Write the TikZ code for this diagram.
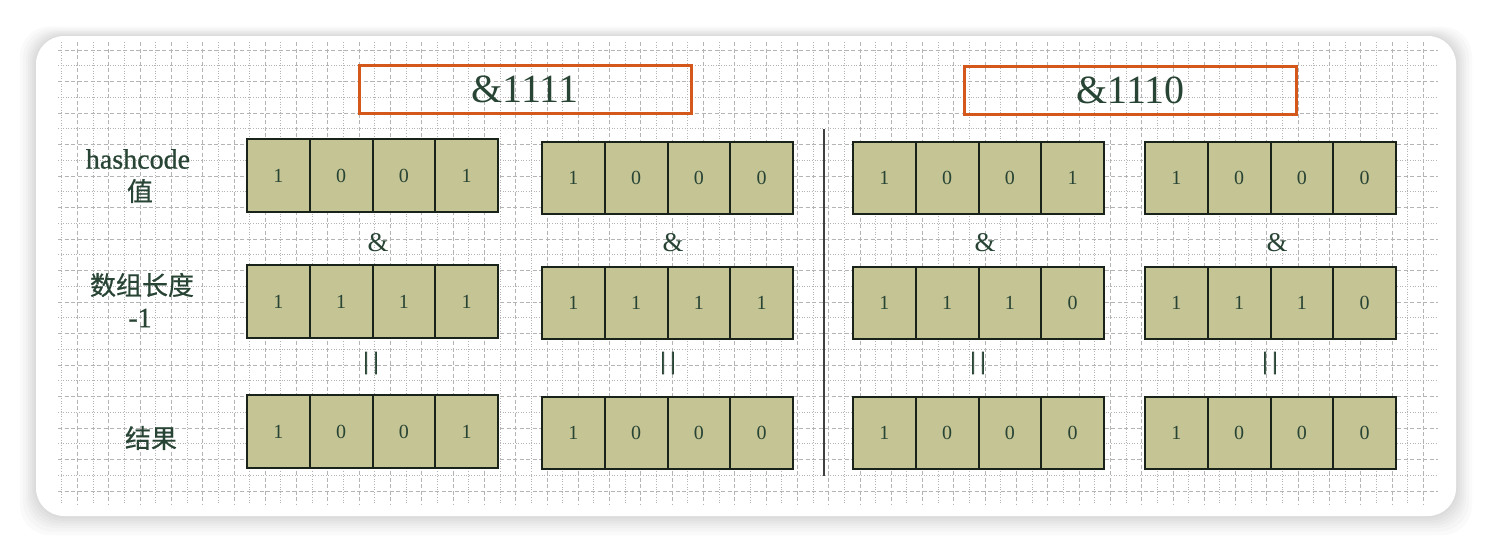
\documentclass[tikz,border=0pt]{standalone}
\usepackage{fontspec}
\setmainfont{Liberation Serif}
\newfontfamily\cjk[FakeBold=0.6]{Noto Sans CJK SC}
\newfontfamily\lblserif[FakeBold=0.8]{Liberation Serif}
\newfontfamily\barserif[FakeBold=3]{Liberation Serif}
\definecolor{cellfill}{RGB}{197,196,148}
\definecolor{celldraw}{RGB}{25,35,25}
\definecolor{txtgreen}{RGB}{40,68,52}
\definecolor{orangebox}{RGB}{212,88,28}
\definecolor{gridgray}{RGB}{180,180,180}
\begin{document}
\begin{tikzpicture}[x=1pt,y=-1pt,
  cellbox/.style={rectangle,fill=cellfill,inner sep=0pt,outer sep=0pt,
    minimum width=62.75pt,minimum height=72pt,font=\fontsize{20}{20}\selectfont,text=txtgreen},
  cellline/.style={draw=celldraw,line width=2pt},
  opbox/.style={rectangle,draw=orangebox,line width=3pt,inner sep=0pt,
    minimum width=332pt,minimum height=48pt,font=\fontsize{40}{40}\selectfont,text=txtgreen},
  lbl/.style={inner sep=0pt,text=txtgreen,font=\lblserif\fontsize{28}{28}\selectfont,align=center},
  cjklbl/.style={inner sep=0pt,text=txtgreen,font=\cjk\fontsize{26}{26}\selectfont},
  oplbl/.style={inner sep=0pt,text=txtgreen,font=\fontsize{27}{27}\selectfont},
  barlbl/.style={inner sep=0pt,text=txtgreen,font=\barserif\fontsize{24}{24}\selectfont},
  griddash/.style={draw=gridgray,line width=0.7pt,dash pattern=on 4pt off 2.5pt},
  griddot/.style={draw=gridgray,line width=0.7pt,dash pattern=on 1pt off 1.6pt}]
\useasboundingbox (0,0) rectangle (1492,552);
\fill[white] (0,0) rectangle (1492,552);
% shadow
\foreach \s in {16,13,10,8,6,4,2}{
  \fill[black,opacity=0.018,rounded corners=30pt] (36-\s,36-\s*0.6) rectangle (1456+\s,516+\s*1.2);
}
\fill[white,rounded corners=28pt] (36,36) rectangle (1456,516);
% grid
\begin{scope}
\clip (58,42) rectangle (1438,504);
\foreach \i in {0,...,88}{
  \pgfmathsetmacro{\gx}{61.7+15.65*\i}
  \ifodd\i \draw[griddash] (\gx,42) -- (\gx,504); \else \draw[griddot] (\gx,42) -- (\gx,504); \fi
}
\foreach \j in {0,...,29}{
  \pgfmathsetmacro{\gy}{50+15.75*\j}
  \ifodd\j \draw[griddot] (58,\gy) -- (1438,\gy); \else \draw[griddash] (58,\gy) -- (1438,\gy); \fi
}
\end{scope}
% orange boxes
\node[opbox] (opA) at (525,89.5) {\&1111};
\node[opbox] (opB) at (1130.5,90) {\&1110};
% labels
\node[lbl] (lhash) at (138,159) {hashcode};
\node[cjklbl] (lzhi) at (140,191) {值};
\node[cjklbl] (llen) at (142,285) {数组长度};
\node[lbl] (lmin) at (140,318) {-1};
\node[cjklbl] (lres) at (151,438) {结果};
% separator
\coordinate (sepT) at (824,129);
\coordinate (sepB) at (824,476);
\draw[line width=1.8pt,draw=black!75] (sepT) -- (sepB);
% cells: group/row/left/top/height/digits
\foreach \g/\r/\lx/\t/\h/\dA/\dB/\dC/\dD in {
  1/1/247/139/73/1/0/0/1, 1/2/247/265/73/1/1/1/1, 1/3/247/395/73/1/0/0/1,
  2/1/542/142/72/1/0/0/0, 2/2/542/267/72/1/1/1/1, 2/3/542/397/72/1/0/0/0,
  3/1/853/142/72/1/0/0/1, 3/2/853/267/72/1/1/1/0, 3/3/853/397/72/1/0/0/0,
  4/1/1145/142/72/1/0/0/0, 4/2/1145/267/72/1/1/1/0, 4/3/1145/397/72/1/0/0/0}{
  \node[cellbox,minimum height=\h pt] (g\g r\r c1) at ({\lx+62.75*0.5},{\t+\h/2}) {\dA};
  \node[cellbox,minimum height=\h pt] (g\g r\r c2) at ({\lx+62.75*1.5},{\t+\h/2}) {\dB};
  \node[cellbox,minimum height=\h pt] (g\g r\r c3) at ({\lx+62.75*2.5},{\t+\h/2}) {\dC};
  \node[cellbox,minimum height=\h pt] (g\g r\r c4) at ({\lx+62.75*3.5},{\t+\h/2}) {\dD};
}
% cell borders on top of fills
\foreach \g in {1,...,4}{
  \foreach \r in {1,2,3}{
    \foreach \c in {1,...,4}{
      \draw[cellline] (g\g r\r c\c.north west) rectangle (g\g r\r c\c.south east);
    }
  }
}
% operators
\foreach \g/\ax/\ex in {1/378/371,2/673/668,3/985/978,4/1277/1270}{
  \node[oplbl] (amp\g) at (\ax,243) {\&};
  \node[barlbl] (eq\g) at (\ex,363) {|\kern5pt|};
}
\end{tikzpicture}
\end{document}
